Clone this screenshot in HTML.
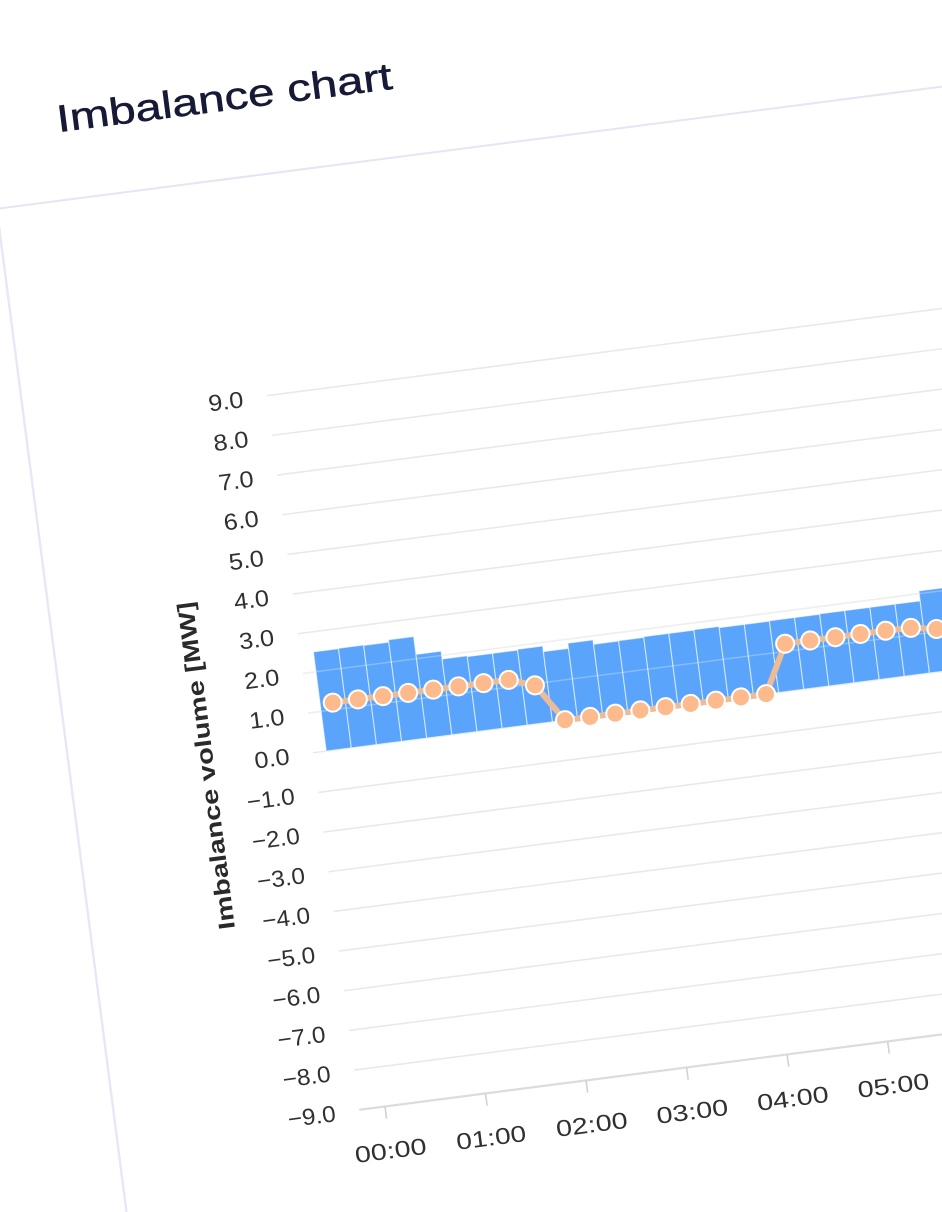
<!DOCTYPE html>
<html>
<head>
<meta charset="utf-8">
<style>
html,body{margin:0;padding:0;background:#fff;width:942px;height:1212px;overflow:hidden}
svg{display:block}
text{font-family:"Liberation Sans",sans-serif}
</style>
</head>
<body>
<svg width="942" height="1212" viewBox="0 0 942 1212" xmlns="http://www.w3.org/2000/svg">
<rect x="0" y="0" width="942" height="1212" fill="#fff"/>
<g transform="rotate(-7.37)">
  <!-- card border & header separator -->
  <line x1="-30" y1="206.7" x2="1150" y2="206.7" stroke="#e5e5f3" stroke-width="2"/>
  <line x1="-30" y1="206.7" x2="-30" y2="1250" stroke="#e7e8f5" stroke-width="2.4"/>

  <!-- title -->
  <text x="0" y="0" transform="translate(41,138.5) scale(1.25,1)" font-size="38" fill="#171a36" stroke="#171a36" stroke-width="0.5">Imbalance chart</text>

  <!-- grid lines -->
  <g stroke="#e9e9e9" stroke-width="1.6">
    <line x1="214" y1="426.7" x2="1150" y2="426.7"/>
    <line x1="214" y1="466.7" x2="1150" y2="466.7"/>
    <line x1="214" y1="506.7" x2="1150" y2="506.7"/>
    <line x1="214" y1="546.7" x2="1150" y2="546.7"/>
    <line x1="214" y1="586.7" x2="1150" y2="586.7"/>
    <line x1="214" y1="626.7" x2="1150" y2="626.7"/>
    <line x1="214" y1="666.7" x2="1150" y2="666.7"/>
    <line x1="214" y1="706.7" x2="1150" y2="706.7"/>
    <line x1="214" y1="746.7" x2="1150" y2="746.7"/>
    <line x1="214" y1="786.7" x2="1150" y2="786.7"/>
    <line x1="214" y1="826.7" x2="1150" y2="826.7"/>
    <line x1="214" y1="866.7" x2="1150" y2="866.7"/>
    <line x1="214" y1="906.7" x2="1150" y2="906.7"/>
    <line x1="214" y1="946.7" x2="1150" y2="946.7"/>
    <line x1="214" y1="986.7" x2="1150" y2="986.7"/>
    <line x1="214" y1="1026.7" x2="1150" y2="1026.7"/>
    <line x1="214" y1="1066.7" x2="1150" y2="1066.7"/>
    <line x1="214" y1="1106.7" x2="1150" y2="1106.7"/>
  </g>
  <!-- x axis -->
  <line x1="214" y1="1146.7" x2="1150" y2="1146.7" stroke="#dcdcdc" stroke-width="2.2"/>
  <g stroke="#d2d2d2" stroke-width="1.6">
    <line x1="239.85" y1="1146.7" x2="239.85" y2="1159"/>
    <line x1="341.23" y1="1146.7" x2="341.23" y2="1159"/>
    <line x1="442.61" y1="1146.7" x2="442.61" y2="1159"/>
    <line x1="543.99" y1="1146.7" x2="543.99" y2="1159"/>
    <line x1="645.37" y1="1146.7" x2="645.37" y2="1159"/>
    <line x1="746.75" y1="1146.7" x2="746.75" y2="1159"/>
    <line x1="848.13" y1="1146.7" x2="848.13" y2="1159"/>
  </g>

  <!-- y tick labels -->
  <g font-size="23" fill="#303030" text-anchor="end">
    <text x="0" y="0" transform="translate(190,435) scale(1.1,1)">9.0</text>
    <text x="0" y="0" transform="translate(190,475) scale(1.1,1)">8.0</text>
    <text x="0" y="0" transform="translate(190,515) scale(1.1,1)">7.0</text>
    <text x="0" y="0" transform="translate(190,555) scale(1.1,1)">6.0</text>
    <text x="0" y="0" transform="translate(190,595) scale(1.1,1)">5.0</text>
    <text x="0" y="0" transform="translate(190,635) scale(1.1,1)">4.0</text>
    <text x="0" y="0" transform="translate(190,675) scale(1.1,1)">3.0</text>
    <text x="0" y="0" transform="translate(190,715) scale(1.1,1)">2.0</text>
    <text x="0" y="0" transform="translate(190,755) scale(1.1,1)">1.0</text>
    <text x="0" y="0" transform="translate(190,795) scale(1.1,1)">0.0</text>
    <text x="0" y="0" transform="translate(190,835) scale(1.06,1)">−1.0</text>
    <text x="0" y="0" transform="translate(190,875) scale(1.06,1)">−2.0</text>
    <text x="0" y="0" transform="translate(190,915) scale(1.06,1)">−3.0</text>
    <text x="0" y="0" transform="translate(190,955) scale(1.06,1)">−4.0</text>
    <text x="0" y="0" transform="translate(190,995) scale(1.06,1)">−5.0</text>
    <text x="0" y="0" transform="translate(190,1035) scale(1.06,1)">−6.0</text>
    <text x="0" y="0" transform="translate(190,1075) scale(1.06,1)">−7.0</text>
    <text x="0" y="0" transform="translate(190,1115) scale(1.06,1)">−8.0</text>
    <text x="0" y="0" transform="translate(190,1155) scale(1.06,1)">−9.0</text>
  </g>

  <!-- x tick labels -->
  <g font-size="23" fill="#303030" text-anchor="middle">
    <text x="0" y="0" transform="translate(239.85,1199) scale(1.25,1)">00:00</text>
    <text x="0" y="0" transform="translate(341.23,1199) scale(1.22,1)">01:00</text>
    <text x="0" y="0" transform="translate(442.61,1199) scale(1.25,1)">02:00</text>
    <text x="0" y="0" transform="translate(543.99,1199) scale(1.25,1)">03:00</text>
    <text x="0" y="0" transform="translate(645.37,1199) scale(1.25,1)">04:00</text>
    <text x="0" y="0" transform="translate(746.75,1199) scale(1.25,1)">05:00</text>
    <text x="0" y="0" transform="translate(848.13,1199) scale(1.25,1)">06:00</text>
  </g>

  <!-- y axis title -->
  <text x="0" y="8" transform="translate(106,786) rotate(-90) scale(1.26,1)" font-size="23" font-weight="bold" fill="#2a2a2a" text-anchor="middle">Imbalance volume [MW]</text>

  <!-- bars -->
  <g fill="#5aa5fb" stroke="rgba(255,255,255,0.6)" stroke-width="1.1">
    <rect x="227.18" y="686.7" width="25.35" height="100"/>
    <rect x="252.53" y="686.3" width="25.35" height="100.4"/>
    <rect x="277.87" y="686.7" width="25.35" height="100"/>
    <rect x="303.22" y="684.3" width="25.35" height="102.4"/>
    <rect x="328.56" y="702.3" width="25.35" height="84.4"/>
    <rect x="353.91" y="710.3" width="25.35" height="76.4"/>
    <rect x="379.25" y="711.1" width="25.35" height="75.6"/>
    <rect x="404.60" y="711.1" width="25.35" height="75.6"/>
    <rect x="429.94" y="710.3" width="25.35" height="76.4"/>
    <rect x="455.29" y="715.9" width="25.35" height="70.8"/>
    <rect x="480.63" y="710.7" width="25.35" height="76"/>
    <rect x="505.98" y="715.1" width="25.35" height="71.6"/>
    <rect x="531.32" y="714.7" width="25.35" height="72"/>
    <rect x="556.67" y="713.9" width="25.35" height="72.8"/>
    <rect x="582.01" y="713.9" width="25.35" height="72.8"/>
    <rect x="607.36" y="713.5" width="25.35" height="73.2"/>
    <rect x="632.70" y="714.7" width="25.35" height="72"/>
    <rect x="658.05" y="714.7" width="25.35" height="72"/>
    <rect x="683.39" y="714.3" width="25.35" height="72.4"/>
    <rect x="708.74" y="714.3" width="25.35" height="72.4"/>
    <rect x="734.08" y="713.9" width="25.35" height="72.8"/>
    <rect x="759.43" y="713.9" width="25.35" height="72.8"/>
    <rect x="784.77" y="713.9" width="25.35" height="72.8"/>
    <rect x="810.12" y="713.9" width="25.35" height="72.8"/>
    <rect x="835.46" y="703.9" width="25.35" height="82.8"/>
    <rect x="860.81" y="706.7" width="25.35" height="80"/>
  </g>
  <!-- faint gridlines over bars -->
  <g stroke="rgba(255,255,255,0.28)" stroke-width="1.4">
    <line x1="214" y1="706.7" x2="1150" y2="706.7"/>
    <line x1="214" y1="746.7" x2="1150" y2="746.7"/>
  </g>

  <!-- line series -->
  <polyline fill="none" stroke="#ecbb97" stroke-width="6" stroke-linejoin="round"
    points="239.85,739.5 265.20,739.5 290.54,739.5 315.89,739.5 341.23,739.5 366.58,739.5 391.92,739.5 417.27,739.5 442.61,748.3 467.96,786.7 493.30,786.7 518.65,786.7 543.99,786.7 569.34,786.7 594.68,786.7 620.03,786.7 645.37,786.7 670.72,786.7 696.06,739.1 721.41,739.1 746.75,739.1 772.10,739.1 797.44,739.1 822.79,739.5 848.13,743.9 873.48,742.7"/>
  <g fill="#fdba8c" stroke="#ffffff" stroke-width="2">
    <circle cx="239.85" cy="739.5" r="9"/>
    <circle cx="265.20" cy="739.5" r="9"/>
    <circle cx="290.54" cy="739.5" r="9"/>
    <circle cx="315.89" cy="739.5" r="9"/>
    <circle cx="341.23" cy="739.5" r="9"/>
    <circle cx="366.58" cy="739.5" r="9"/>
    <circle cx="391.92" cy="739.5" r="9"/>
    <circle cx="417.27" cy="739.5" r="9"/>
    <circle cx="442.61" cy="748.3" r="9"/>
    <circle cx="467.96" cy="786.7" r="9"/>
    <circle cx="493.30" cy="786.7" r="9"/>
    <circle cx="518.65" cy="786.7" r="9"/>
    <circle cx="543.99" cy="786.7" r="9"/>
    <circle cx="569.34" cy="786.7" r="9"/>
    <circle cx="594.68" cy="786.7" r="9"/>
    <circle cx="620.03" cy="786.7" r="9"/>
    <circle cx="645.37" cy="786.7" r="9"/>
    <circle cx="670.72" cy="786.7" r="9"/>
    <circle cx="696.06" cy="739.1" r="9"/>
    <circle cx="721.41" cy="739.1" r="9"/>
    <circle cx="746.75" cy="739.1" r="9"/>
    <circle cx="772.10" cy="739.1" r="9"/>
    <circle cx="797.44" cy="739.1" r="9"/>
    <circle cx="822.79" cy="739.5" r="9"/>
    <circle cx="848.13" cy="743.9" r="9"/>
    <circle cx="873.48" cy="742.7" r="9"/>
  </g>
</g>
</svg>
</body>
</html>
